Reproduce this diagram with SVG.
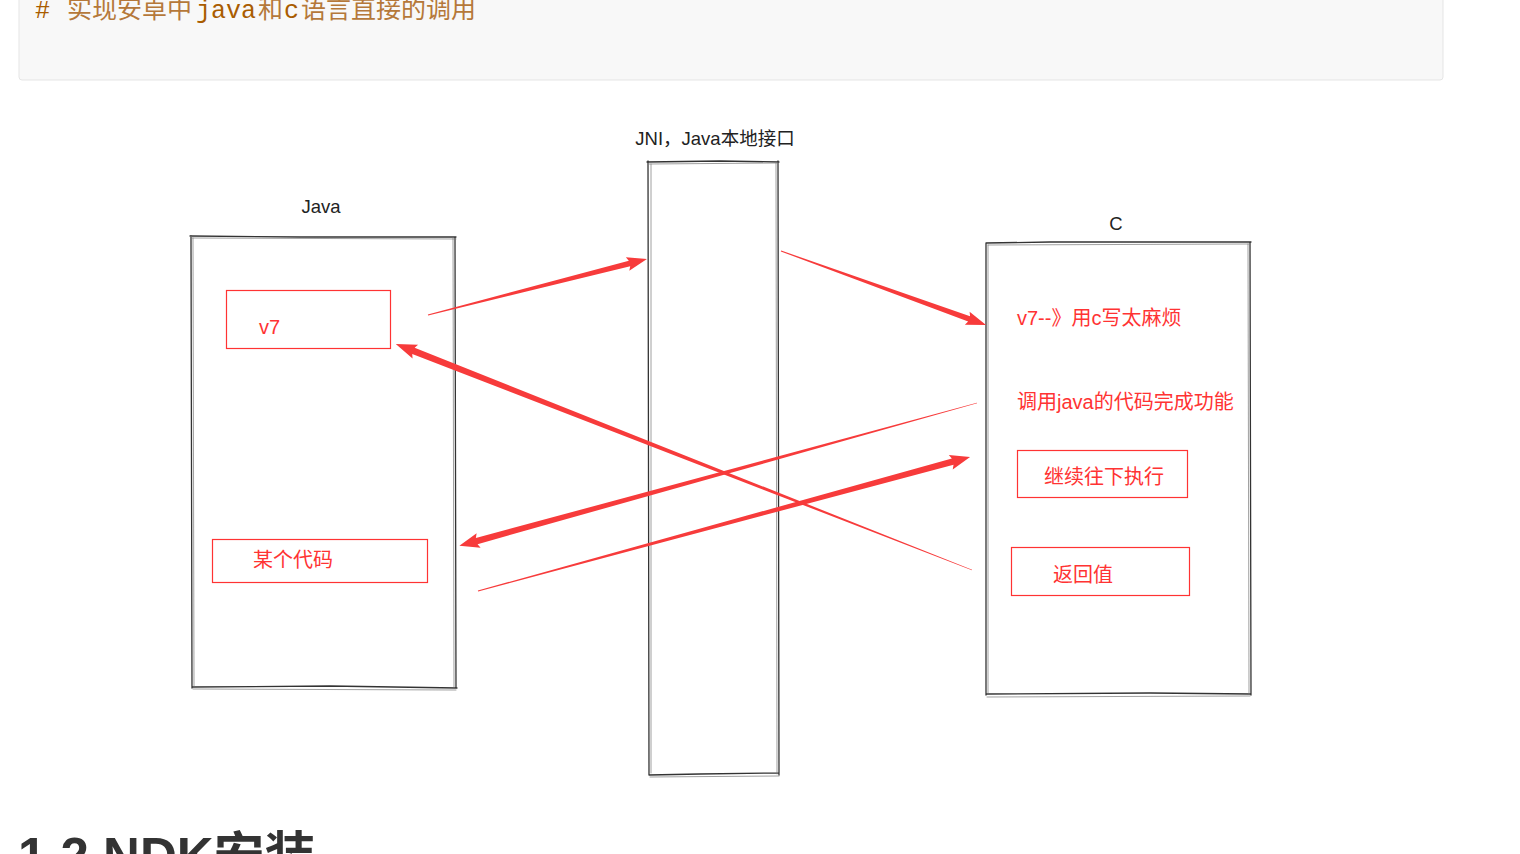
<svg xmlns="http://www.w3.org/2000/svg" width="1520" height="854" viewBox="0 0 1520 854">
<defs>
<style>
.sk{fill:none;stroke:#333;stroke-width:1.3;stroke-linecap:round}
.sk2{fill:none;stroke:#777;stroke-width:1;opacity:.7;stroke-linecap:round}
.lbl{font-family:"Liberation Sans","Noto Sans CJK SC",sans-serif;font-size:18.5px;fill:#222;text-anchor:middle}
.rt{font-family:"Liberation Sans","Noto Sans CJK SC",sans-serif;font-size:20px;fill:#f33}
.rb{fill:none;stroke:#f33;stroke-width:1.2}
.ar{fill:#f73b3b}
.cj{font-family:"Noto Sans CJK SC",sans-serif;font-size:25px;fill:#b5783a}
.mo{font-family:"Liberation Mono",monospace;font-size:25px;fill:#a95c00}
</style>
</defs>
<rect x="19" y="-10" width="1424" height="90" rx="3" fill="#f8f8f8" stroke="#e5e5e5"/>
<text y="18"><tspan class="mo" x="35">#</tspan><tspan class="cj" x="67">实现安卓中</tspan><tspan class="mo" x="196">java</tspan><tspan class="cj" x="258">和</tspan><tspan class="mo" x="284">c</tspan><tspan class="cj" x="301">语言直接的调用</tspan></text>

<g id="java">
<text class="lbl" x="321" y="213">Java</text>
<path class="sk" d="M190,236 L300,237 L456,237 M191,236 L192,688 M192,687 L330,686 L457,688 M455,237 L456,688"/>
<path class="sk2" d="M192,238 L456,239 M193,238 L194,686 M193,689 L456,690 M453,238 L454,687"/>
</g>
<g id="v7">
<rect class="rb" x="226.5" y="290.5" width="164" height="58"/>
<text class="rt" x="259" y="334">v7</text>
</g>
<g id="code">
<rect class="rb" x="212.5" y="539.5" width="215" height="43"/>
<text class="rt" x="253" y="567">某个代码</text>
</g>

<g id="jni">
<text class="lbl" x="715" y="145">JNI，Java本地接口</text>
<path class="sk" d="M647,162 L720,161 L779,162 M648,161 L649,775 M649,775 L700,774 L779,773 M778,161 L779,775"/>
<path class="sk2" d="M649,164 L778,163 M651,164 L651,773 M650,777 L779,776 M776,163 L777,774"/>
</g>

<g id="c">
<text class="lbl" x="1116" y="230">C</text>
<path class="sk" d="M986,243 L1050,242 L1251,242 M986,243 L986,695 M987,694 L1150,693 L1251,694 M1250,242 L1251,695"/>
<path class="sk2" d="M988,245 L1250,244 M988,245 L988,693 M987,697 L1250,696 M1248,244 L1249,694"/>
<text class="rt" x="1017" y="325">v7--》用c写太麻烦</text>
<text class="rt" x="1017" y="409">调用java的代码完成功能</text>
</g>
<g id="cont">
<rect class="rb" x="1017.5" y="450.5" width="170" height="47"/>
<text class="rt" x="1044" y="484">继续往下执行</text>
</g>
<g id="ret">
<rect class="rb" x="1011.5" y="547.5" width="178" height="48"/>
<text class="rt" x="1053" y="582">返回值</text>
</g>

<g id="connectors">
<path class="ar" transform="translate(428,315) rotate(-14.34)" d="M0,-0.5 L208,-2.8 L206,-7 L226,0 L206,7 L208,2.8 L0,0.5Z"/>
<path class="ar" transform="translate(781,251) rotate(19.85)" d="M0,-0.5 L200,-2.8 L198,-7 L218,0 L198,7 L200,2.8 L0,0.5Z"/>
<path class="ar" transform="translate(977,403) rotate(164.57)" d="M0,-0.3 L519,-3.2 L517,-7.5 L537,0 L517,7.5 L519,3.2 L0,0.3Z"/>
<path class="ar" transform="translate(478,591) rotate(-15.24)" d="M0,-0.5 L492,-3.2 L490,-7.5 L510,0 L490,7.5 L492,3.2 L0,0.5Z"/>
<path class="ar" transform="translate(972,570) rotate(-158.58)" d="M0,-0.3 L600,-3.3 L598,-7.5 L619,0 L598,7.5 L600,3.3 L0,0.3Z"/>
</g>

<text x="18" y="874" font-family="'Liberation Sans','Noto Sans CJK SC',sans-serif" font-size="51" font-weight="bold" fill="#333">1.2 NDK安装</text>
</svg>
